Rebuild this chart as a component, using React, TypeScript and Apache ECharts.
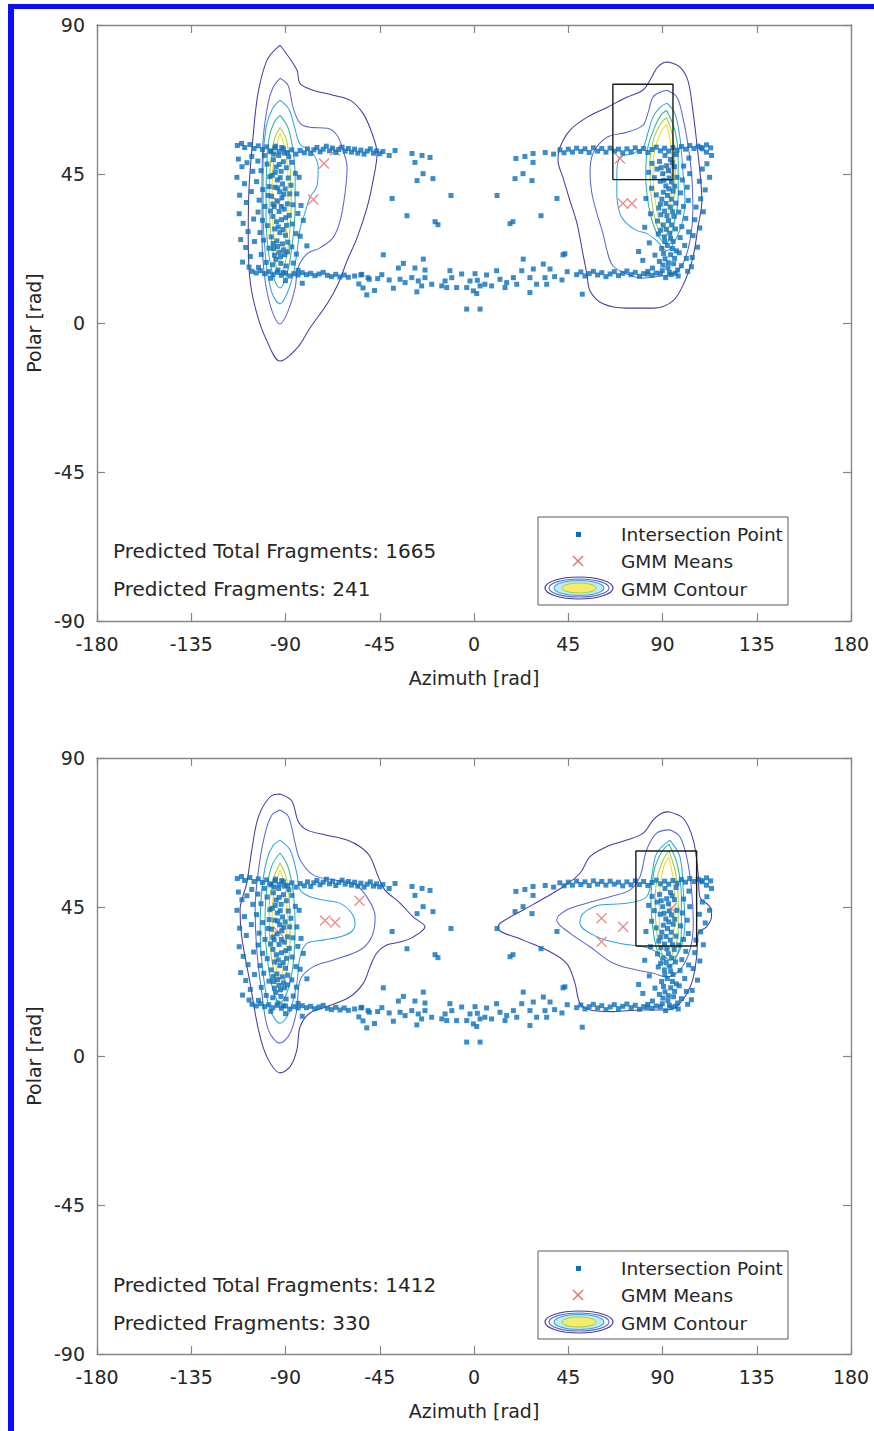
import React, { useEffect, useRef } from "react";
import * as echarts from "echarts";

// ---------------- data (degrees) ----------------
const xTickStep = 45;
const yTickStep = 45;

const upperBandLeft = [
  [-113, 53.6], [-111, 54.2], [-109.5, 53.0], [-107, 53.9], [-105, 52.7], [-103, 53.5], [-101, 52.4], [-99, 53.2],
  [-97, 52.0], [-95, 52.9], [-93, 51.8], [-91, 52.6], [-89, 51.5], [-87, 52.3], [-85, 51.0], [-83, 52.1],
  [-81, 51.4], [-79.5, 52.6], [-78, 51.2], [-76.5, 52.3], [-75, 53.0], [-73.5, 51.7], [-72, 52.5], [-70.5, 53.4],
  [-69, 52.0], [-67.5, 52.8], [-66, 51.5], [-64.5, 52.4], [-63, 53.1], [-61.5, 51.9], [-60, 52.7], [-58.5, 51.6],
  [-57, 52.5], [-55.5, 51.3], [-54, 52.2], [-52.5, 51.0], [-51, 51.9], [-49.5, 52.6], [-48, 51.3], [-46.5, 52.0],
  [-45, 51.1], [-43.5, 51.8], [-40.5, 50.6],
];
const upperBandRight = [
  [34, 51.5], [38, 51.0], [41, 52.3], [43, 51.4], [45, 52.5], [47, 51.6], [49, 52.8], [51, 51.8], [53, 52.6],
  [55, 51.5], [57, 52.9], [59, 51.9], [61, 52.7], [63, 51.6], [65, 52.8], [67, 51.9], [69, 52.5], [71, 51.4],
  [73, 52.6], [75, 51.7], [77, 52.9], [79, 51.8], [81, 52.7], [83, 51.5], [85, 52.4], [87, 53.1], [89, 52.0],
  [91, 52.8], [93, 51.9], [95, 53.0], [97, 52.2], [99, 53.3], [101, 52.5], [103, 53.6], [105, 52.7], [107, 53.4],
  [109, 52.6], [111, 53.8], [113, 52.9],
];
const lowerBandLeft = [
  [-106, 15.6], [-104, 15.1], [-102, 15.8], [-100, 14.9], [-98, 15.5], [-96, 14.6], [-94, 15.3], [-92, 14.4],
  [-90, 15.1], [-88, 14.2], [-86, 14.9], [-84, 14.5], [-82, 15.2], [-80, 14.6], [-78, 15.0], [-76, 14.3],
  [-74, 14.8], [-72, 15.3], [-70, 14.4], [-68, 14.0], [-66, 14.7], [-64, 13.9], [-62, 14.5], [-60, 13.8],
  [-57, 14.2], [-55, 11.8], [-53.6, 14.7], [-50.6, 13.7], [-51.2, 8.5], [-46, 13.4],
];
const lowerBandRight = [
  [49, 14.6], [51, 15.4], [53, 14.2], [55, 14.9], [57, 15.6], [59, 14.5], [61, 15.2], [63, 14.0], [65, 14.8],
  [67, 15.5], [69, 14.3], [71, 15.0], [73, 15.7], [75, 14.6], [77, 15.3], [79, 14.1], [81, 14.9], [83, 15.6],
  [85, 14.4], [87, 15.1], [51.7, 8.7],
];
const bottomCloud = [
  [-33.7, 18.0], [-36.1, 16.6], [-28.2, 16.6], [-23.4, 16.0], [-24.2, 19.3], [-35.3, 13.2], [-32.9, 12.2],
  [-29.7, 13.7], [-26.6, 12.7], [-23.4, 13.7], [-25.0, 11.2], [-20.2, 11.7], [-27.3, 9.4], [-15.4, 11.2],
  [-13.8, 12.7], [-11.5, 15.8], [-10.6, 13.7], [-13.0, 10.7], [-8.3, 10.7], [-5.9, 14.8], [-3.5, 10.7],
  [-1.9, 12.7], [0.5, 14.9], [1.6, 12.9], [-0.3, 9.7], [2.9, 11.2], [6.0, 14.5], [8.4, 11.2], [10.8, 15.8],
  [12.4, 13.2], [15.6, 12.2], [14.8, 10.7], [20.4, 11.7], [18.8, 13.7], [23.5, 19.3], [22.8, 15.8], [26.7, 13.7],
  [28.3, 16.3], [29.9, 11.7], [33.1, 17.8], [33.9, 13.7], [36.3, 16.3], [34.7, 11.7], [26.7, 9.2], [1.3, 8.9],
  [5.2, 11.7], [-3.5, 4.2], [2.9, 4.2], [-54, 14.5], [-50, 13.2], [-53, 10.6], [-40.5, 13.0], [-44, 14.6],
  [-38.5, 10.5], [-47.5, 9.8], [38.5, 14.0], [42.0, 13.0], [44.5, 15.5], [43.4, 20.9],
];
const sparseMiddle = [
  [-37.7, 52.1], [-29.6, 51.2], [-28.2, 48.5], [-24.8, 50.6], [-21.0, 50.0], [-24.3, 45.1], [-27.2, 43.0],
  [-19.6, 43.6], [-39.1, 37.6], [-11.0, 38.5], [-32.0, 32.4], [-18.6, 30.6], [-17.2, 29.7], [-43.3, 20.6],
  [20.0, 49.7], [24.3, 50.3], [28.2, 51.2], [28.2, 48.5], [19.6, 43.6], [23.4, 45.1], [27.7, 43.0], [11.0, 38.5],
  [39.6, 37.6], [32.0, 32.4], [17.2, 30.0], [18.6, 30.6], [42.5, 20.6], [-79.8, 23.3],
];
const leftCluster = [
  [-112.5, 49.5], [-110.8, 47.2], [-113.2, 44.0], [-109.6, 42.1], [-111.9, 38.6], [-108.7, 36.4], [-112.1, 33.0],
  [-110.2, 30.1], [-107.9, 27.6], [-111.4, 25.2], [-109.0, 22.8], [-106.8, 20.1], [-110.5, 18.4], [-107.4, 16.9],
  [-105.6, 45.8], [-106.3, 39.7], [-105.2, 31.4], [-104.8, 24.6], [-106.1, 50.3], [-108.4, 48.4],
  [-103.2, 48.9], [-101.7, 46.0], [-103.8, 42.7], [-100.9, 40.3], [-102.6, 37.1], [-99.8, 35.2], [-103.1, 33.5],
  [-101.0, 31.0], [-98.7, 29.4], [-102.2, 27.3], [-100.4, 25.0], [-97.9, 22.6], [-101.6, 20.7], [-99.2, 18.3],
  [-102.9, 16.8], [-97.5, 44.2], [-98.3, 38.5], [-97.2, 33.8], [-98.8, 48.0], [-100.1, 50.6],
  [-95.8, 49.3], [-93.2, 50.6], [-91.0, 48.7], [-94.5, 47.1], [-92.1, 45.8], [-89.6, 46.9], [-96.3, 44.6],
  [-93.9, 43.2], [-91.4, 42.0], [-88.7, 43.8], [-95.1, 41.0], [-92.8, 39.6], [-90.2, 40.5], [-96.6, 38.3],
  [-94.0, 36.9], [-91.7, 37.8], [-89.1, 36.0], [-95.4, 35.1], [-93.1, 33.7], [-90.6, 34.4], [-88.2, 32.5],
  [-96.0, 32.2], [-94.3, 30.6], [-91.9, 31.2], [-89.5, 29.5], [-95.2, 28.4], [-92.7, 27.3], [-90.0, 26.5],
  [-96.8, 26.0], [-94.1, 24.8], [-91.5, 23.9], [-88.9, 24.4], [-95.7, 22.5], [-93.0, 21.4], [-90.4, 20.6],
  [-94.6, 19.2], [-92.2, 18.0], [-89.7, 17.2], [-96.1, 17.6], [-93.6, 16.0], [-91.1, 15.2], [-94.8, 53.4],
  [-91.8, 53.0], [-88.4, 50.2], [-97.0, 51.7],
  [-94.9, 45.5], [-92.5, 43.9], [-90.8, 38.9], [-93.7, 40.8], [-96.0, 35.9], [-92.0, 35.2], [-89.9, 31.8],
  [-93.4, 29.0], [-91.1, 28.2], [-95.9, 24.0], [-93.8, 23.1], [-90.9, 22.1], [-92.4, 20.0], [-95.3, 20.5],
  [-93.0, 47.9], [-90.5, 51.3], [-95.5, 51.0], [-88.0, 39.0], [-97.8, 41.2], [-89.0, 21.5],
  [-86.9, 48.5], [-85.3, 45.2], [-87.4, 41.6], [-84.6, 39.0], [-86.5, 35.7], [-84.1, 33.1], [-86.8, 29.9],
  [-85.0, 27.0], [-87.0, 23.0], [-84.8, 20.8], [-86.3, 18.1], [-83.5, 44.0], [-82.6, 35.5], [-83.0, 26.2],
  [-81.5, 31.0], [-84.0, 15.9], [-82.0, 12.0], [-90.0, 12.8], [-97.0, 13.5],
];
const rightCluster = [
  [113.4, 50.6], [111.2, 48.1], [109.0, 46.5], [112.5, 44.0], [107.6, 42.8], [110.4, 40.2], [108.2, 37.5],
  [106.0, 35.0], [109.5, 33.6], [105.4, 31.2], [107.8, 28.7], [104.6, 26.4], [106.7, 22.9], [104.2, 19.8],
  [103.8, 17.0], [111.0, 51.6], [108.5, 53.0],
  [102.6, 49.8], [100.1, 47.4], [103.0, 45.1], [99.5, 43.2], [101.8, 41.0], [98.6, 39.3], [102.3, 37.0],
  [100.0, 35.2], [97.8, 33.5], [101.1, 31.6], [99.2, 29.1], [102.5, 27.5], [98.4, 25.8], [100.6, 23.4],
  [98.0, 21.2], [101.4, 19.5], [99.0, 17.3], [102.0, 15.6], [97.5, 14.2],
  [96.5, 50.9], [93.8, 49.4], [91.2, 50.6], [88.6, 48.8], [95.7, 47.2], [92.9, 46.0], [90.1, 45.1], [87.4, 46.5],
  [96.9, 44.0], [94.3, 42.6], [91.6, 41.4], [88.9, 42.8], [95.1, 39.8], [92.4, 38.5], [89.7, 37.4], [96.4, 36.2],
  [93.7, 35.0], [91.0, 33.8], [88.2, 34.7], [95.6, 32.2], [92.8, 30.9], [90.3, 29.6], [87.6, 30.8], [96.2, 28.4],
  [93.5, 27.1], [90.9, 26.0], [88.0, 26.9], [95.0, 24.6], [92.3, 23.4], [89.6, 22.5], [96.6, 21.8], [93.9, 20.6],
  [91.2, 19.4], [88.5, 18.6], [95.3, 17.9], [92.6, 16.7], [89.9, 15.8], [94.1, 14.6], [91.5, 13.7], [97.2, 16.0],
  [86.4, 20.5], [87.0, 38.7], [86.1, 43.9],
  [94.6, 48.4], [92.0, 47.5], [89.4, 46.9], [93.2, 43.8], [90.7, 43.1], [95.8, 41.3], [93.0, 40.5], [90.4, 39.5],
  [94.2, 37.4], [91.7, 36.1], [89.0, 35.9], [94.8, 33.6], [92.1, 32.4], [89.2, 32.7], [94.4, 29.6], [91.8, 28.3],
  [89.1, 28.0], [93.9, 25.6], [91.1, 24.6], [94.7, 22.5], [90.5, 21.0], [92.8, 18.2], [90.2, 17.5], [95.8, 19.5],
  [93.3, 15.3], [96.0, 15.0], [89.0, 14.9],
  [85.0, 48.2], [83.4, 45.5], [84.8, 40.7], [82.1, 37.6], [84.3, 33.0], [81.5, 28.9], [83.7, 24.2], [80.6, 18.9],
  [85.2, 16.6], [78.6, 21.6], [82.8, 14.8],
];

// GMM means
const topMeans = [[-93.5, 36.4], [-76.8, 37.3], [-71.6, 48.2], [-66.3, 52.1], [69.7, 49.7], [71.1, 36.1], [75.4, 36.1], [92.6, 46.1]];
const bottomMeans = [[-93.4, 37.5], [-71.1, 40.9], [-66.3, 40.3], [-54.7, 46.9], [60.9, 41.6], [71.2, 39.0], [60.9, 34.5], [94.3, 44.6]];

// highlighted boxes [xMin, yMin, xMax, yMax]
const topBox = [66.3, 43.3, 95.0, 72.1];
const bottomBox = [77.3, 33.2, 106.3, 61.9];

const fragmentTexts = [
  ["Predicted Total Fragments: 1665", "Predicted Fragments: 241"],
  ["Predicted Total Fragments: 1412", "Predicted Fragments: 330"],
];

// contour levels (outer -> inner)
const topLeft1 = [[-92.6, 83.9], [-84.6, 76.5], [-83.0, 72.3], [-76.8, 70.3], [-67.3, 68.8], [-59.2, 67.3], [-53.0, 63.3], [-48.7, 57.3], [-46.3, 51.2], [-48.2, 43.0], [-51.1, 34.8], [-55.8, 25.8], [-60.6, 18.8], [-64.9, 11.8], [-70.1, 5.8], [-78.3, -1.5], [-84.5, -7.6], [-92.6, -11.5], [-98.8, -5.5], [-103.6, 2.7], [-106.9, 12.7], [-107.8, 25.8], [-107.4, 40.9], [-105.5, 56.1], [-103.1, 69.4], [-98.8, 79.4]];
const topLeft2 = [[-92.6, 73.9], [-88.8, 71.8], [-86.4, 65.1], [-83.0, 60.3], [-78.3, 59.1], [-70.1, 58.8], [-65.4, 56.7], [-62.5, 52.1], [-60.6, 47.0], [-61.6, 39.1], [-63.9, 30.9], [-67.3, 25.8], [-73.5, 22.7], [-79.7, 20.9], [-84.0, 16.7], [-85.4, 10.6], [-88.8, 3.6], [-92.6, -0.3], [-96.4, 3.6], [-99.7, 12.7], [-101.2, 25.8], [-101.2, 40.9], [-100.7, 55.1], [-98.3, 66.4], [-95.9, 71.2]];
const topLeft3 = [[-92.6, 67.3], [-88.3, 64.5], [-85.4, 58.5], [-83.0, 54.0], [-77.3, 51.5], [-74.4, 47.0], [-74.9, 41.5], [-78.3, 38.0], [-80.6, 33.5], [-83.0, 28.5], [-84.5, 21.5], [-86.4, 14.5], [-89.2, 9.0], [-92.6, 5.8], [-96.4, 9.0], [-99.3, 18.5], [-100.7, 33.5], [-100.7, 48.5], [-99.3, 59.0], [-96.4, 64.5]];
const topLeft4 = [[-92.6, 62.7], [-88.8, 59.0], [-86.4, 52.0], [-85.4, 44.0], [-85.4, 35.0], [-86.4, 26.0], [-88.3, 17.5], [-90.5, 12.5], [-92.6, 10.6], [-95.0, 12.5], [-97.8, 20.0], [-99.3, 33.0], [-99.0, 47.0], [-97.8, 56.0], [-95.5, 60.5]];
const topLeft5 = [[-92.6, 59.1], [-89.5, 55.0], [-87.8, 47.0], [-87.3, 37.0], [-88.0, 27.0], [-89.7, 19.5], [-92.6, 14.8], [-95.0, 18.5], [-97.0, 27.0], [-97.8, 37.0], [-97.3, 47.0], [-95.5, 55.0]];
const topLeft6 = [[-92.6, 57.3], [-90.0, 52.0], [-88.8, 44.0], [-88.8, 34.0], [-90.0, 25.0], [-92.6, 18.8], [-94.5, 22.0], [-96.0, 30.0], [-96.4, 40.0], [-95.5, 50.0]];

const topRight1 = [[92.6, 78.8], [98.3, 77.3], [102.1, 73.3], [104.5, 64.2], [106.4, 54.2], [107.8, 46.1], [108.8, 37.0], [106.9, 28.8], [104.5, 19.7], [100.7, 12.7], [95.0, 6.7], [85.4, 4.5], [73.0, 4.5], [61.6, 5.8], [55.4, 9.7], [53.9, 14.8], [52.0, 20.9], [49.2, 30.0], [45.8, 37.0], [42.5, 43.9], [40.1, 49.1], [41.0, 53.0], [45.8, 58.2], [53.9, 62.1], [63.5, 65.1], [73.0, 68.2], [80.6, 70.3], [84.0, 73.3], [87.3, 77.0], [90.2, 78.5]];
const topRight2 = [[92.1, 70.3], [96.9, 68.2], [99.7, 62.1], [102.1, 54.2], [104.0, 43.9], [104.5, 33.9], [103.1, 24.8], [99.7, 17.9], [95.0, 14.8], [88.8, 14.2], [80.6, 13.6], [73.0, 14.8], [66.3, 17.3], [63.5, 21.8], [61.6, 27.0], [58.7, 33.0], [56.3, 39.1], [55.4, 45.1], [56.8, 51.2], [63.5, 56.1], [73.0, 57.6], [80.6, 59.7], [83.0, 63.3], [85.4, 68.2], [88.8, 69.7]];
const topRight3 = [[92.1, 66.4], [95.9, 63.3], [98.3, 56.1], [99.7, 46.1], [100.7, 37.0], [99.3, 30.0], [95.9, 24.8], [92.1, 21.8], [87.3, 24.8], [82.6, 27.0], [77.8, 27.9], [73.0, 30.0], [69.7, 33.0], [68.2, 39.1], [68.2, 45.1], [69.7, 50.0], [75.9, 51.2], [80.6, 53.0], [83.0, 57.3], [85.4, 62.1], [88.8, 65.1]];
const topRight4 = [[92.0, 64.2], [96.0, 58.0], [97.5, 49.0], [97.5, 39.0], [95.5, 30.0], [91.5, 24.0], [87.0, 27.5], [83.5, 35.0], [82.0, 45.0], [83.0, 53.0], [86.5, 59.5], [89.5, 63.0]];
const topRight5 = [[92.0, 62.0], [95.0, 56.0], [96.0, 47.0], [95.5, 38.0], [93.5, 30.0], [90.5, 26.0], [87.0, 30.0], [84.5, 39.0], [84.0, 48.0], [86.0, 56.0], [89.5, 60.5]];
const topRight6 = [[92.0, 60.0], [94.0, 54.0], [94.5, 46.0], [94.0, 38.0], [92.5, 32.0], [90.5, 29.0], [88.0, 32.0], [86.0, 40.0], [85.5, 48.0], [87.5, 55.0], [90.0, 58.5]];

const bottomLeft1 = [[-92.6, 79.1], [-87.0, 77.0], [-84.0, 71.0], [-79.8, 68.3], [-70.3, 66.7], [-60.7, 65.2], [-54.4, 63.2], [-49.6, 60.2], [-45.7, 54.1], [-42.5, 50.1], [-35.3, 46.2], [-29.1, 42.0], [-23.4, 39.0], [-29.1, 35.9], [-35.3, 34.4], [-41.7, 33.5], [-46.4, 31.1], [-49.6, 27.0], [-52.8, 22.0], [-59.2, 17.9], [-70.3, 14.9], [-78.3, 13.0], [-83.0, 8.9], [-84.6, 1.8], [-87.8, -3.2], [-92.6, -5.1], [-98.9, -0.2], [-102.9, 7.9], [-106.9, 22.0], [-110.9, 36.0], [-111.7, 44.1], [-108.5, 52.2], [-106.1, 62.2], [-102.9, 72.3], [-97.3, 78.3]];
const bottomLeft2 = [[-92.6, 74.3], [-88.6, 72.3], [-85.4, 64.3], [-83.0, 59.2], [-76.8, 54.7], [-67.3, 53.2], [-57.7, 52.2], [-51.2, 48.1], [-47.2, 42.1], [-48.8, 36.0], [-54.4, 32.0], [-67.1, 29.0], [-76.7, 27.0], [-83.0, 23.0], [-84.6, 13.9], [-87.8, 6.9], [-92.6, 3.9], [-98.2, 7.9], [-101.3, 19.0], [-103.7, 32.0], [-104.5, 44.1], [-102.9, 56.2], [-99.7, 67.3], [-96.5, 72.8]];
const bottomLeft3 = [[-92.6, 65.2], [-87.8, 62.2], [-84.6, 55.2], [-83.0, 50.1], [-78.3, 48.1], [-72.1, 47.1], [-63.9, 46.1], [-58.4, 43.1], [-56.8, 40.1], [-58.4, 37.6], [-63.9, 36.0], [-72.1, 35.0], [-79.8, 34.0], [-83.0, 30.0], [-84.6, 22.0], [-87.8, 13.9], [-92.6, 9.9], [-97.3, 13.9], [-100.5, 23.9], [-102.1, 38.1], [-101.3, 50.1], [-98.9, 59.2], [-95.8, 63.7]];
const bottomLeft4 = [[-92.6, 61.3], [-89.0, 57.5], [-86.4, 50.0], [-85.4, 40.0], [-86.0, 30.0], [-88.3, 21.0], [-92.6, 16.0], [-96.0, 20.0], [-98.8, 30.0], [-99.8, 40.0], [-99.0, 50.0], [-96.5, 57.5]];
const bottomLeft5 = [[-92.6, 58.3], [-89.7, 54.0], [-88.0, 46.0], [-87.8, 36.0], [-89.0, 27.0], [-92.6, 19.9], [-95.5, 25.0], [-97.5, 35.0], [-97.8, 45.0], [-96.0, 53.0]];
const bottomLeft6 = [[-92.6, 56.2], [-90.3, 51.0], [-89.2, 43.0], [-89.7, 33.0], [-91.0, 27.0], [-92.6, 23.0], [-94.5, 27.0], [-96.2, 35.0], [-96.4, 44.0], [-95.0, 51.0]];

const bottomRight1 = [[92.7, 73.8], [99.9, 71.8], [104.7, 65.2], [107.0, 55.2], [107.8, 48.1], [112.6, 45.1], [113.4, 42.1], [111.0, 39.0], [107.0, 37.1], [106.3, 30.0], [103.9, 22.0], [98.3, 15.9], [92.0, 13.9], [79.2, 13.9], [66.5, 13.4], [55.4, 13.9], [50.6, 15.9], [48.2, 22.0], [44.2, 28.0], [34.7, 32.0], [23.5, 35.0], [11.6, 38.6], [12.4, 40.1], [23.5, 44.1], [34.7, 48.1], [42.6, 51.1], [50.6, 55.2], [55.4, 60.2], [63.3, 63.2], [72.9, 65.2], [80.8, 67.3], [85.6, 71.3], [89.6, 73.3]];
const bottomRight2 = [[93.5, 68.3], [98.3, 66.2], [101.5, 60.2], [103.9, 50.1], [104.7, 40.1], [103.1, 32.0], [98.3, 26.0], [92.0, 23.9], [85.6, 25.0], [77.6, 26.0], [66.5, 28.0], [55.4, 33.0], [45.8, 37.1], [39.5, 41.1], [44.2, 44.1], [53.8, 46.1], [64.9, 48.1], [74.4, 50.1], [79.2, 54.1], [82.4, 62.2], [87.2, 67.3]];
const bottomRight3 = [[93.5, 65.2], [98.3, 60.2], [99.9, 50.1], [100.7, 40.1], [98.3, 32.0], [93.5, 29.0], [88.8, 31.0], [80.8, 33.0], [69.7, 34.0], [58.6, 36.0], [50.6, 40.1], [52.2, 43.1], [60.1, 45.6], [72.9, 46.1], [82.4, 48.1], [84.8, 54.1], [87.2, 61.2]];
const bottomRight4 = [[93.0, 64.0], [97.0, 58.0], [99.0, 48.0], [99.0, 38.0], [97.0, 30.5], [93.0, 27.0], [88.5, 30.0], [85.5, 38.0], [84.5, 48.0], [86.0, 56.0], [89.5, 61.5]];
const bottomRight5 = [[93.0, 62.0], [96.0, 56.0], [97.5, 47.0], [97.5, 38.0], [95.5, 32.0], [92.5, 29.5], [89.0, 32.0], [87.0, 39.0], [86.5, 48.0], [88.0, 55.0], [90.5, 59.5]];
const bottomRight6 = [[93.0, 60.0], [95.0, 54.0], [96.0, 46.0], [95.5, 38.0], [93.5, 33.0], [92.0, 31.5], [90.0, 34.0], [88.5, 40.0], [88.5, 48.0], [89.5, 54.0], [91.0, 58.0]];

const topContours = [
  [topLeft1, topRight1], [topLeft2, topRight2], [topLeft3, topRight3],
  [topLeft4, topRight4], [topLeft5, topRight5], [topLeft6, topRight6],
];
const bottomContours = [
  [bottomLeft1, bottomRight1], [bottomLeft2, bottomRight2], [bottomLeft3, bottomRight3],
  [bottomLeft4, bottomRight4], [bottomLeft5, bottomRight5], [bottomLeft6, bottomRight6],
];

// ---------------- styles ----------------
const FONT = "DejaVu Sans";
const TEXT = "#262626";
const AXIS = "#878787";
const levelColors = ["#4a3a9c", "#5d68cf", "#33a2dc", "#2db59c", "#a8cd3e", "#f2da2a"];
const POINT = "#0b6fbd";
const MEAN = "#e8736c";
const XMARK = "path://M0,0L10,10M10,0L0,10";

const grids = [
  { left: 97, top: 25, width: 754, height: 596 },
  { left: 97, top: 758, width: 754, height: 596 },
];

function closed(p: number[][]) {
  return [...p, p[0]];
}
function boxLine(b: number[]) {
  return [[b[0], b[1]], [b[2], b[1]], [b[2], b[3]], [b[0], b[3]], [b[0], b[1]]];
}

const allPoints = [
  ...upperBandLeft, ...upperBandRight, ...lowerBandLeft, ...lowerBandRight,
  ...bottomCloud, ...sparseMiddle, ...leftCluster, ...rightCluster,
];

function makeXAxis(g: number, pos: "bottom" | "top") {
  const main = pos === "bottom";
  return {
    type: "value", gridIndex: g, position: pos, min: -180, max: 180, interval: xTickStep,
    axisLine: { show: true, onZero: false, lineStyle: { color: AXIS, width: 1.4 } },
    axisTick: { show: true, inside: true, length: 8, lineStyle: { color: AXIS, width: 1.2 } },
    axisLabel: { show: main, color: TEXT, fontSize: 19, fontFamily: FONT, margin: 13 },
    splitLine: { show: false },
    name: main ? "Azimuth [rad]" : "",
    nameLocation: "middle", nameGap: 47,
    nameTextStyle: { color: TEXT, fontSize: 19, fontFamily: FONT },
  };
}
function makeYAxis(g: number, pos: "left" | "right") {
  const main = pos === "left";
  return {
    type: "value", gridIndex: g, position: pos, min: -90, max: 90, interval: yTickStep,
    axisLine: { show: true, onZero: false, lineStyle: { color: AXIS, width: 1.4 } },
    axisTick: { show: true, inside: true, length: 8, lineStyle: { color: AXIS, width: 1.2 } },
    axisLabel: { show: main, color: TEXT, fontSize: 19, fontFamily: FONT, margin: 12 },
    splitLine: { show: false },
    name: main ? "Polar [rad]" : "",
    nameLocation: "middle", nameGap: 54,
    nameTextStyle: { color: TEXT, fontSize: 19, fontFamily: FONT },
  };
}

function panelSeries(g: number, contours: number[][][][], means: number[][], box: number[]) {
  const ax = { xAxisIndex: g * 2, yAxisIndex: g * 2 };
  const out: any[] = [];
  contours.forEach((level, i) => {
    level.forEach((poly) => {
      out.push({
        type: "line", ...ax, data: closed(poly), symbol: "none", smooth: 0.35, silent: true, z: 2,
        lineStyle: { color: levelColors[i], width: 1.05 },
      });
    });
  });
  out.push({
    type: "scatter", ...ax, data: means, symbol: XMARK, symbolSize: 10, silent: true, z: 3,
    itemStyle: { color: "transparent", borderColor: MEAN, borderWidth: 1.4 },
  });
  out.push({
    type: "scatter", ...ax, data: allPoints, symbol: "rect", symbolSize: 5, silent: true, z: 4,
    itemStyle: { color: POINT },
  });
  out.push({
    type: "line", ...ax, data: boxLine(box), symbol: "none", silent: true, z: 5,
    lineStyle: { color: "#1a1a1a", width: 1.4 },
  });
  return out;
}

function legendGraphic(top: number) {
  const l = 538, w = 250, h = 88;
  return [
    { type: "rect", shape: { x: l, y: top, width: w, height: h }, style: { fill: "#fff", stroke: "#5a5a5a", lineWidth: 1 }, z: 100 },
    { type: "rect", shape: { x: 576, y: top + 15, width: 5, height: 5 }, style: { fill: POINT }, z: 101 },
    { type: "line", shape: { x1: 573, y1: top + 39, x2: 583, y2: top + 49 }, style: { stroke: MEAN, lineWidth: 1.4 }, z: 101 },
    { type: "line", shape: { x1: 583, y1: top + 39, x2: 573, y2: top + 49 }, style: { stroke: MEAN, lineWidth: 1.4 }, z: 101 },
    { type: "ellipse", shape: { cx: 579, cy: top + 71, rx: 34, ry: 11 }, style: { fill: "#fff", stroke: levelColors[0], lineWidth: 1.2 }, z: 101 },
    { type: "ellipse", shape: { cx: 579, cy: top + 71, rx: 30, ry: 9 }, style: { fill: "none", stroke: levelColors[1], lineWidth: 1.1 }, z: 101 },
    { type: "ellipse", shape: { cx: 579, cy: top + 71, rx: 25, ry: 7.5 }, style: { fill: "#bfeaf2", stroke: levelColors[2], lineWidth: 1.1 }, z: 101 },
    { type: "ellipse", shape: { cx: 579, cy: top + 71, rx: 17, ry: 5 }, style: { fill: "#f6ec6a", stroke: levelColors[4], lineWidth: 1 }, z: 101 },
    { type: "text", x: 621, y: top + 17, style: { text: "Intersection Point", fill: TEXT, fontSize: 18.5, fontFamily: FONT, verticalAlign: "middle" }, z: 101 },
    { type: "text", x: 621, y: top + 44, style: { text: "GMM Means", fill: TEXT, fontSize: 18.5, fontFamily: FONT, verticalAlign: "middle" }, z: 101 },
    { type: "text", x: 621, y: top + 72, style: { text: "GMM Contour", fill: TEXT, fontSize: 18.5, fontFamily: FONT, verticalAlign: "middle" }, z: 101 },
  ];
}

function noteGraphic(y1: number, y2: number, texts: string[]) {
  return [
    { type: "text", x: 113, y: y1, style: { text: texts[0], fill: TEXT, fontSize: 20, fontFamily: FONT, verticalAlign: "middle" }, z: 101 },
    { type: "text", x: 113, y: y2, style: { text: texts[1], fill: TEXT, fontSize: 20, fontFamily: FONT, verticalAlign: "middle" }, z: 101 },
  ];
}

export default function App() {
  const ref = useRef<HTMLDivElement>(null);
  useEffect(() => {
    if (!ref.current) return;
    const chart = echarts.init(ref.current, null, { renderer: "svg" });
    chart.setOption({
      animation: false,
      backgroundColor: "#ffffff",
      grid: grids,
      xAxis: [makeXAxis(0, "bottom"), makeXAxis(0, "top"), makeXAxis(1, "bottom"), makeXAxis(1, "top")],
      yAxis: [makeYAxis(0, "left"), makeYAxis(0, "right"), makeYAxis(1, "left"), makeYAxis(1, "right")],
      series: [
        ...panelSeries(0, topContours, topMeans, topBox),
        ...panelSeries(1, bottomContours, bottomMeans, bottomBox),
      ],
      graphic: [
        { type: "rect", shape: { x: 8, y: 4, width: 866, height: 5 }, style: { fill: "#0b0bff" }, z: 200 },
        { type: "rect", shape: { x: 8, y: 4, width: 6, height: 1427 }, style: { fill: "#0b0bff" }, z: 200 },
        ...legendGraphic(517),
        ...legendGraphic(1251),
        ...noteGraphic(551, 589, fragmentTexts[0]),
        ...noteGraphic(1285, 1323, fragmentTexts[1]),
      ],
    });
    return () => chart.dispose();
  }, []);
  return (
    <div
      ref={ref}
      style={{ position: "absolute", left: 0, top: 0, width: 874, height: 1431, background: "#fff" }}
    />
  );
}
